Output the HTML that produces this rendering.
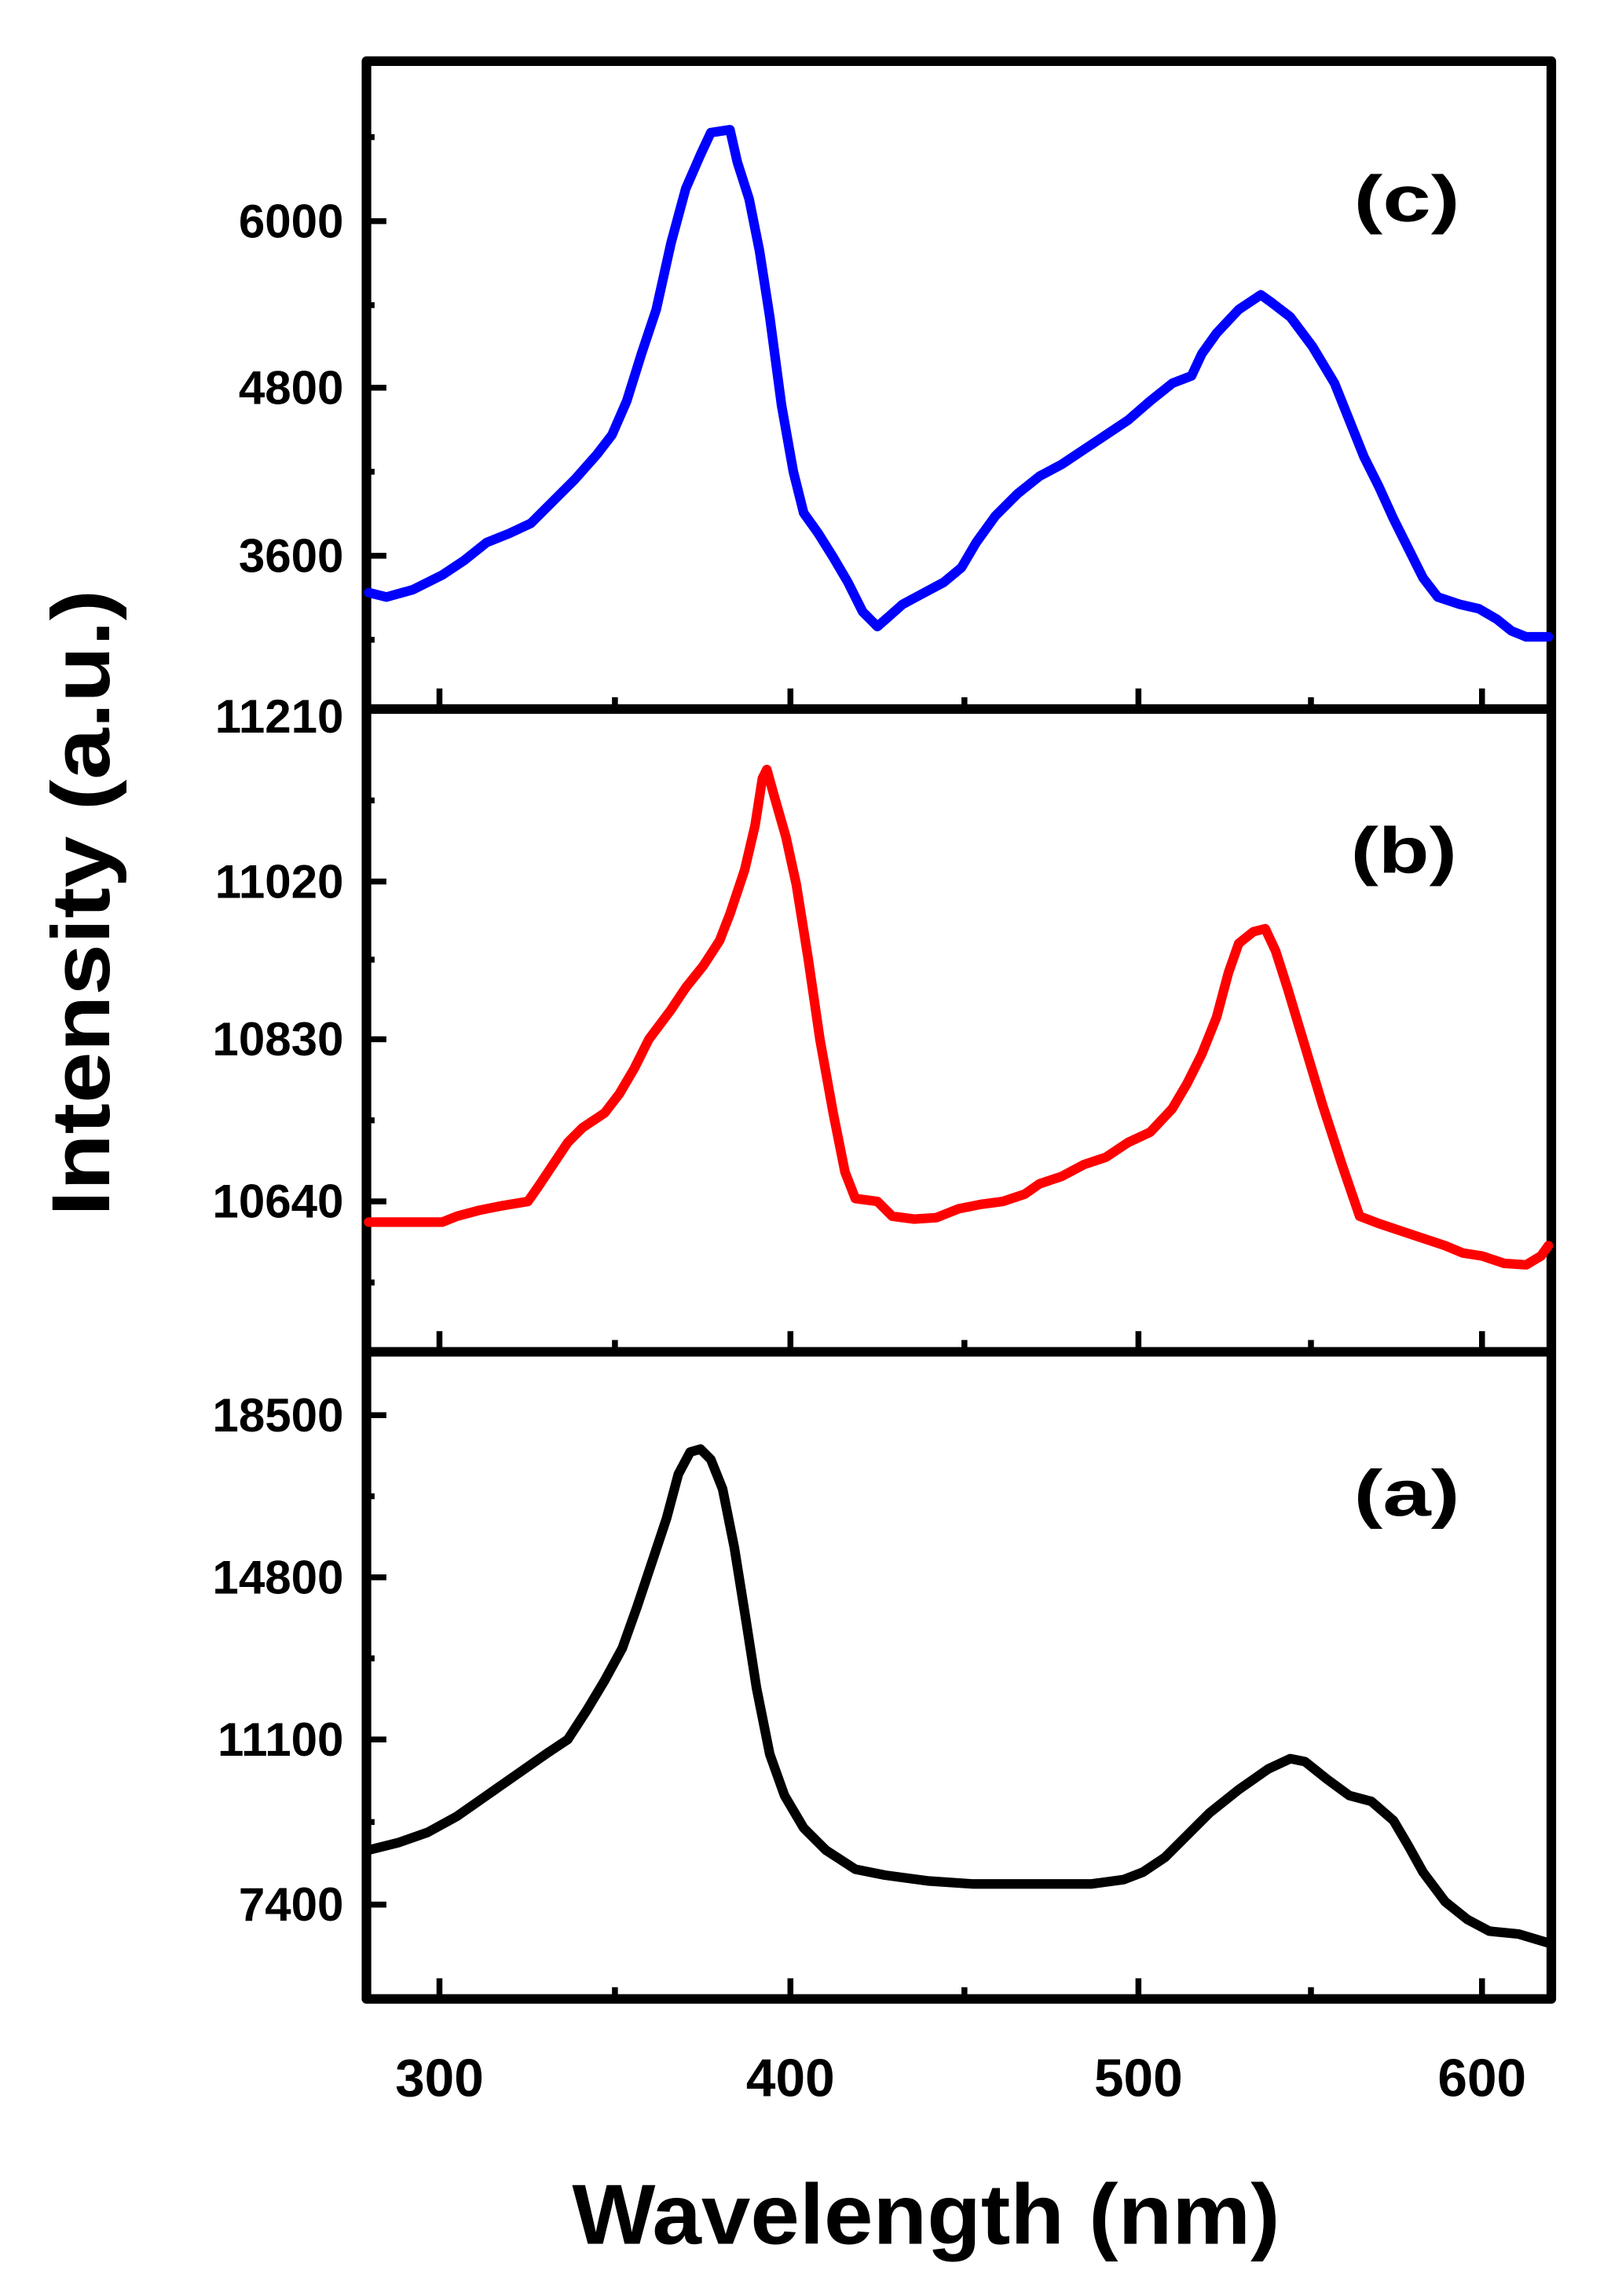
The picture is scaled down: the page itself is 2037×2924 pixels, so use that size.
<!DOCTYPE html>
<html><head><meta charset="utf-8"><style>
html,body{margin:0;padding:0;background:#fff}
svg{display:block}
text{font-family:"Liberation Sans",Arial,sans-serif;font-weight:bold;fill:#000}
</style></head><body>
<svg width="2037" height="2924" viewBox="0 0 1085 1557.5" xmlns="http://www.w3.org/2000/svg">
<g stroke="#000" stroke-width="4" fill="none">
<path d="M298,481v-14M536,481v-14M772,481v-14M1005,481v-14M417,481v-8M654,481v-8M889,481v-8"/>
<path d="M298,917v-14M536,917v-14M772,917v-14M1005,917v-14M417,917v-8M654,917v-8M889,917v-8"/>
<path d="M298,1356v-14M536,1356v-14M772,1356v-14M1005,1356v-14M417,1356v-8M654,1356v-8M889,1356v-8"/>
<path d="M248,150h14M248,263h14M248,377h14M248,93h6M248,207h6M248,320h6M248,434h6"/>
<path d="M248,598h14M248,705h14M248,815h14M248,543h6M248,651h6M248,760h6M248,870h6"/>
<path d="M248,960h14M248,1070h14M248,1180h14M248,1292h14M248,1015h6M248,1125h6M248,1236h6"/>
</g>
<g stroke="#000" stroke-width="6.5" fill="none" stroke-linejoin="round">
<rect x="248.5" y="41.5" width="803.5" height="1314.5"/>
<path d="M248.5,481H1052M248.5,917H1052"/>
</g>
<g fill="none" stroke-width="6.5" stroke-linejoin="round" stroke-linecap="round">
<polyline stroke="#0000ff" points="250,402 262,405 280,400 300,390 315,380 330,368 345,362 360,355 375,340 390,325 405,308 415,295 425,272 435,240 445,210 455,165 465,128 475,105 482,90 495,88 500,110 508,135 515,170 522,215 530,275 538,320 545,348 555,362 565,378 575,395 585,415 595,425 603,418 612,410 625,403 640,395 652,385 662,368 675,350 690,335 705,323 720,315 735,305 750,295 765,285 780,272 795,260 808,255 815,240 825,226 840,210 855,200 862,205 875,215 890,235 905,260 915,285 925,310 935,330 945,352 955,372 965,392 975,405 990,410 1003,413 1015,420 1025,428 1035,432 1050,432"/>
<polyline stroke="#ff0000" points="250,829 300,829 310,825 325,821 340,818 358,815 365,805 375,790 385,775 395,765 410,755 420,742 430,725 440,705 455,685 465,670 477,655 488,638 495,620 505,590 512,560 517,528 520,522 525,540 533,568 540,600 548,650 556,705 565,755 573,795 580,813 595,815 605,825 620,827 635,826 650,820 665,817 680,815 695,810 705,803 720,798 735,790 750,785 765,775 780,768 795,752 805,735 815,715 825,690 833,660 840,640 850,632 858,630 865,645 873,670 885,710 897,750 910,790 922,825 935,830 950,835 965,840 980,845 992,850 1005,852 1020,857 1035,858 1045,852 1050,845"/>
<polyline stroke="#000" points="250,1255 270,1250 290,1243 310,1232 330,1218 350,1204 370,1190 385,1180 398,1160 410,1140 422,1118 432,1090 442,1060 452,1030 460,1000 468,985 475,983 482,990 490,1010 498,1050 506,1100 513,1145 522,1190 532,1218 545,1240 560,1255 580,1268 600,1272 630,1276 660,1278 700,1278 740,1278 762,1275 775,1270 790,1260 805,1245 820,1230 840,1214 860,1200 875,1193 885,1195 900,1207 915,1218 930,1222 945,1235 955,1252 965,1270 980,1290 995,1302 1010,1310 1030,1312 1050,1318"/>
</g>
<g font-size="32" text-anchor="end">
<text x="233" y="161">6000</text><text x="233" y="274">4800</text><text x="233" y="388">3600</text>
<text x="233" y="497">11210</text><text x="233" y="609">11020</text><text x="233" y="716">10830</text><text x="233" y="826">10640</text>
<text x="233" y="971">18500</text><text x="233" y="1081">14800</text><text x="233" y="1191">11100</text><text x="233" y="1303">7400</text>
</g>
<g font-size="36" text-anchor="middle">
<text x="298" y="1422">300</text><text x="536" y="1422">400</text><text x="772" y="1422">500</text><text x="1005" y="1422">600</text>
</g>
<g font-size="44">
<text x="918" y="150" textLength="72" lengthAdjust="spacingAndGlyphs">(c)</text>
<text x="916" y="592" textLength="72" lengthAdjust="spacingAndGlyphs">(b)</text>
<text x="918" y="1028" textLength="72" lengthAdjust="spacingAndGlyphs">(a)</text>
</g>
<text x="388" y="1522" font-size="58" textLength="480" lengthAdjust="spacingAndGlyphs">Wavelength (nm)</text>
<text transform="translate(74,825) rotate(-90)" font-size="56" textLength="425" lengthAdjust="spacingAndGlyphs">Intensity (a.u.)</text>
</svg>
</body></html>
